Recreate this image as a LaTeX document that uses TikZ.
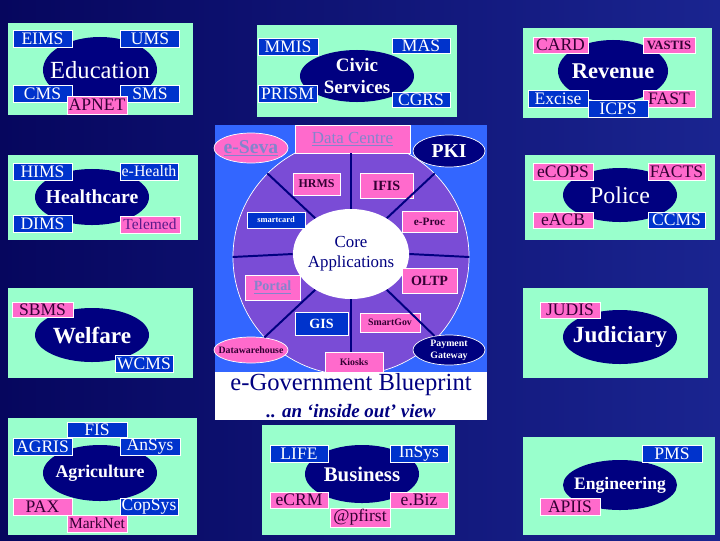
\documentclass[tikz,border=0pt]{standalone}
\usepackage{fontspec}
\setmainfont{Liberation Serif}
\usepackage{xcolor}
\definecolor{CBack}{HTML}{06065E}
\definecolor{CBackLight}{HTML}{1A2490}
\definecolor{CAqua}{HTML}{99FFCC}
\definecolor{CNavy}{HTML}{000080}
\definecolor{CBoxBlue}{HTML}{0033CC}
\definecolor{CPink}{HTML}{FF6ACC}
\definecolor{CPinkText}{HTML}{330033}
\definecolor{CPurpleText}{HTML}{5A1A8A}
\definecolor{CCoreBlue}{HTML}{3366FF}
\definecolor{CRing}{HTML}{7A4CD6}
\definecolor{CLink}{HTML}{8484CC}
\usepackage{tikz}
\usetikzlibrary{shapes.geometric}
\tikzstyle{panel}=[fill=CAqua]
\tikzstyle{hub}=[ellipse, fill=CNavy, inner sep=0pt]
\tikzstyle{hubText}=[text=white, inner sep=0pt, align=center, font=\bfseries\fontsize{16}{17}\selectfont]
\tikzstyle{blueBox}=[rectangle, fill=CBoxBlue, draw=white, line width=0.5pt, text=white, inner sep=0pt,
  minimum width=1.475cm, minimum height=0.425cm, font=\fontsize{12.5}{13}\selectfont]
\tikzstyle{pinkBox}=[blueBox, fill=CPink, text=CPinkText]
\tikzstyle{coreBox}=[pinkBox, font=\bfseries\fontsize{9}{10}\selectfont]
\tikzstyle{coreOval}=[ellipse, fill=CPink, draw=white, line width=0.5pt, inner sep=0pt]
\tikzstyle{spoke}=[draw=CNavy, line width=1.4pt]

\begin{document}
\begin{tikzpicture}[x=0.025cm, y=-0.025cm]
\useasboundingbox (0,0) rectangle (720,540);
\shade[left color=CBack, right color=CBackLight] (0,0) rectangle (720,540);

% Education
\fill[panel] (8,23) rectangle (193,115);
\node[hub, minimum width=2.85cm, minimum height=1.65cm,
  label={[hubText, font=\fontsize{17.5}{18}\selectfont]center:Education}] (eduHub) at (100,70) {};
\node[blueBox] (eims) at (42.5,38.5) {EIMS};
\node[blueBox] (ums) at (150,38.5) {UMS};
\node[blueBox] (cms) at (42.5,93.5) {CMS};
\node[blueBox] (sms) at (150,93.5) {SMS};
\node[pinkBox, minimum width=1.5cm, minimum height=0.45cm] (apnet) at (97,105) {APNET};

% Civic Services
\fill[panel] (257,25) rectangle (457,117);
\node[hub, minimum width=2.85cm, minimum height=1.3cm,
  label={[hubText, font=\bfseries\fontsize{13.5}{15.5}\selectfont]center:Civic\\Services}] (civicHub) at (357,76) {};
\node[blueBox, minimum width=1.5cm] (mmis) at (288,46.5) {MMIS};
\node[blueBox, minimum width=1.45cm, minimum height=0.375cm] (mas) at (421,45.5) {MAS};
\node[blueBox] (prism) at (287.5,93.5) {PRISM};
\node[blueBox, minimum width=1.45cm, minimum height=0.375cm] (cgrs) at (421,99.5) {CGRS};

% Revenue
\fill[panel] (523,28) rectangle (712,118);
\node[hub, minimum width=2.75cm, minimum height=1.55cm,
  label={[hubText, font=\bfseries\fontsize{16}{17}\selectfont]center:Revenue}] (revHub) at (613,71) {};
\node[pinkBox, minimum width=1.375cm, minimum height=0.4cm] (card) at (560.5,45) {CARD};
\node[pinkBox, minimum width=1.3cm, minimum height=0.4cm, font=\bfseries\fontsize{9}{10}\selectfont] (vastis) at (669,45) {VASTIS};
\node[blueBox, minimum width=1.5cm] (excise) at (558,98.5) {Excise};
\node[pinkBox, minimum width=1.3cm] (fast) at (669,98.5) {FAST};
\node[blueBox, minimum width=1.5cm] (icps) at (618,108.5) {ICPS};

% Healthcare
\fill[panel] (8,155) rectangle (198,240);
\node[hub, minimum width=2.85cm, minimum height=1.4cm,
  label={[hubText, font=\bfseries\fontsize{14}{15}\selectfont]center:Healthcare}] (healthHub) at (92,197) {};
\node[blueBox] (hims) at (42.5,171.5) {HIMS};
\node[blueBox, minimum width=1.45cm, font=\fontsize{11.3}{12}\selectfont] (ehealth) at (149,171.5) {e-Health};
\node[blueBox] (dims) at (42.5,223.5) {DIMS};
\node[pinkBox, minimum width=1.5cm, text=CPurpleText, font=\fontsize{11}{12}\selectfont] (telemed) at (150,224.5) {Telemed};

% Police
\fill[panel] (525,155) rectangle (715,240);
\node[hub, minimum width=2.85cm, minimum height=1.35cm,
  label={[hubText, font=\fontsize{17}{18}\selectfont]center:Police}] (policeHub) at (620,195) {};
\node[pinkBox, minimum width=1.5cm] (ecops) at (563,171.5) {eCOPS};
\node[pinkBox, minimum width=1.425cm] (facts) at (676.5,171.5) {FACTS};
\node[pinkBox, minimum width=1.5cm, minimum height=0.4cm] (eacb) at (563,220) {eACB};
\node[blueBox, minimum width=1.425cm, minimum height=0.4cm] (ccms) at (676.5,220) {CCMS};

% Welfare
\fill[panel] (8,288) rectangle (193,378);
\node[hub, minimum width=2.85cm, minimum height=1.35cm,
  label={[hubText, font=\bfseries\fontsize{16.5}{17}\selectfont]center:Welfare}] (welfareHub) at (92,335) {};
\node[pinkBox, minimum width=1.525cm, minimum height=0.375cm] (sbms) at (42.5,309.5) {SBMS};
\node[blueBox, minimum width=1.45cm] (wcms) at (144,363.5) {WCMS};

% Judiciary
\fill[panel] (523,288) rectangle (708,378);
\node[hub, minimum width=2.85cm, minimum height=1.35cm,
  label={[hubText, font=\bfseries\fontsize{16.5}{17}\selectfont]center:Judiciary}] (judHub) at (620,337) {};
\node[pinkBox, minimum width=1.5cm, minimum height=0.4cm] (judis) at (570,310) {JUDIS};

% Agriculture
\fill[panel] (8,418) rectangle (197,535);
\node[hub, minimum width=2.85cm, minimum height=1.4cm,
  label={[hubText, font=\bfseries\fontsize{12.7}{13}\selectfont]center:Agriculture}] (agriHub) at (100,473) {};
\node[blueBox, minimum width=1.5cm, minimum height=0.375cm] (fis) at (97,429.5) {FIS};
\node[blueBox] (agris) at (42.5,446.5) {AGRIS};
\node[blueBox, minimum width=1.5cm] (ansys) at (150,446.5) {AnSys};
\node[pinkBox] (pax) at (42.5,506.5) {PAX};
\node[blueBox, minimum width=1.45cm] (copsys) at (149,506.5) {CopSys};
\node[pinkBox, minimum width=1.5cm, font=\fontsize{11}{12}\selectfont] (marknet) at (97,523.5) {MarkNet};

% Business
\fill[panel] (262,425) rectangle (455,535);
\node[hub, minimum width=2.85cm, minimum height=1.45cm,
  label={[hubText, font=\bfseries\fontsize{14.8}{15}\selectfont]center:Business}] (bizHub) at (362,474) {};
\node[blueBox, minimum width=1.45cm] (life) at (299,453.5) {LIFE};
\node[blueBox, minimum width=1.45cm] (insys) at (419,453.5) {InSys};
\node[pinkBox, minimum width=1.45cm, minimum height=0.4cm] (ecrm) at (299,500) {eCRM};
\node[pinkBox, minimum width=1.45cm, minimum height=0.4cm] (ebiz) at (419,500) {e.Biz};
\node[pinkBox, minimum width=1.5cm, minimum height=0.475cm] (pfirst) at (360,517.5) {@pfirst};

% Engineering
\fill[panel] (523,437) rectangle (715,535);
\node[hub, minimum width=2.85cm, minimum height=1.25cm,
  label={[hubText, font=\bfseries\fontsize{12.5}{13}\selectfont]center:Engineering}] (engHub) at (620,485) {};
\node[blueBox, minimum width=1.5cm] (pms) at (672,453.5) {PMS};
\node[pinkBox, minimum width=1.5cm] (apiis) at (570,506.5) {APIIS};

% core applications
\fill[CCoreBlue] (215,125) rectangle (487,372);
\node[circle, fill=CRing, draw=white, line width=0.5pt, minimum size=5.9cm] (ring) at (351,257) {};
\fill[white] (215,372) rectangle (487,420);
\node[ellipse, fill=white, inner sep=0pt, minimum width=2.9cm, minimum height=2.25cm,
  label={[text=CNavy, align=center, font=\fontsize{12}{14}\selectfont]center:Core\\Applications}] (core) at (351,254) {};

\node[coreBox, minimum width=2.875cm, minimum height=0.7cm, text=CLink, font=\fontsize{12}{13}\selectfont] (dataCentre) at (352.5,139) {\underline{Data Centre}};
\node[coreOval, minimum width=1.85cm, minimum height=0.75cm,
  label={[text=CLink, font=\bfseries\fontsize{14}{15}\selectfont]center:\underline{e-Seva}}] (eSeva) at (251,148) {};
\node[hub, draw=white, line width=0.5pt, minimum width=1.8cm, minimum height=0.8cm,
  label={[hubText, font=\bfseries\fontsize{14}{15}\selectfont]center:PKI}] (pki) at (449,151) {};
\node[coreBox, minimum width=1.175cm, minimum height=0.55cm, font=\bfseries\fontsize{8.5}{9}\selectfont] (hrms) at (316.5,184) {HRMS};
\node[coreBox, minimum width=1.325cm, minimum height=0.625cm, font=\bfseries\fontsize{10}{11}\selectfont] (ifis) at (386.5,185.5) {IFIS};
\node[blueBox, minimum width=1.45cm, minimum height=0.4cm, font=\bfseries\fontsize{6}{7}\selectfont] (smartcard) at (276,220) {smartcard};
\node[coreBox, minimum width=1.375cm, minimum height=0.525cm, font=\bfseries\fontsize{8}{9}\selectfont] (eproc) at (429.5,221.5) {e-Proc};
\node[coreBox, minimum width=1.375cm, minimum height=0.625cm, text=CLink, font=\bfseries\fontsize{10}{11}\selectfont] (portal) at (272.5,287.5) {\underline{Portal}};
\node[coreBox, minimum width=1.375cm, minimum height=0.625cm, font=\bfseries\fontsize{10}{11}\selectfont] (oltp) at (429.5,280.5) {OLTP};
\node[blueBox, minimum width=1.325cm, minimum height=0.575cm, font=\bfseries\fontsize{10}{11}\selectfont] (gis) at (321.5,323.5) {GIS};
\node[coreBox, minimum width=1.5cm, minimum height=0.475cm, font=\bfseries\fontsize{7}{8}\selectfont] (smartgov) at (390,322.5) {SmartGov};
\node[coreOval, minimum width=1.85cm, minimum height=0.65cm,
  label={[text=CPinkText, font=\bfseries\fontsize{7}{8}\selectfont]center:Datawarehouse}] (dwh) at (251,350) {};
\node[hub, draw=white, line width=0.5pt, minimum width=1.8cm, minimum height=0.75cm,
  label={[hubText, font=\bfseries\fontsize{7}{8.5}\selectfont]center:Payment\\Gateway}] (payment) at (449,350) {};
\node[coreBox, minimum width=1.45cm, minimum height=0.5cm, font=\bfseries\fontsize{7}{8}\selectfont] (kiosks) at (354,362) {Kiosks};

\draw[spoke] (core.north) -- (core.north |- dataCentre.south);
\draw[spoke] (core.south) -- (core.south |- kiosks.north);
\draw[spoke] (core.180) -- (ring.180);
\draw[spoke] (core.0) -- (ring.0);
\draw[spoke] (core.135) -- (ring.135);
\draw[spoke] (core.45) -- (ring.45);
\draw[spoke] (core.225) -- (dwh);
\draw[spoke] (core.-45) -- (payment);

\node[text=CNavy, font=\fontsize{17.5}{18}\selectfont] (bpTitle) at (351,385) {e-Government Blueprint};
\node[text=CNavy, font=\bfseries\itshape\fontsize{13.5}{14}\selectfont] (bpSub) at (351,411) {.. an ‘inside out’ view};
\end{tikzpicture}
\end{document}
